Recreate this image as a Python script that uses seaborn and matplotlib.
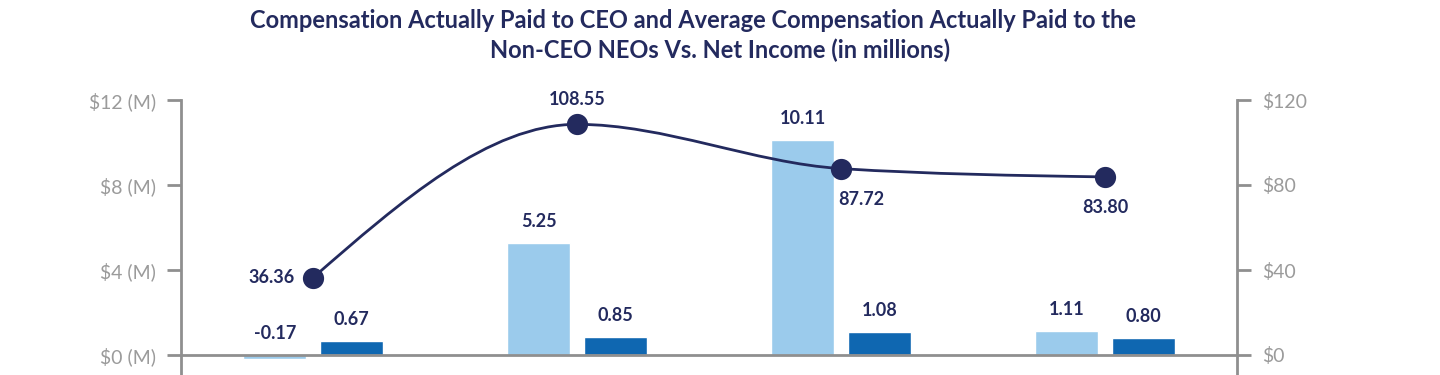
import numpy as np
import pandas as pd
import seaborn as sns
import matplotlib.pyplot as plt
from matplotlib.path import Path
from matplotlib.patches import PathPatch

# data
years = ["2020", "2021", "2022", "2023"]
ceo_cap = [-0.17, 5.25, 10.11, 1.11]
neo_cap = [0.67, 0.85, 1.08, 0.80]
net_income = [36.36, 108.55, 87.72, 83.80]
left_ticks = [0, 4, 8, 12]
left_labels = ["$0 (M)", "$4 (M)", "$8 (M)", "$12 (M)"]
right_ticks = [0, 40, 80, 120]
right_labels = ["$0", "$40", "$80", "$120"]
title_1 = "Compensation Actually Paid to CEO and Average Compensation Actually Paid to the"
title_2 = "Non-CEO NEOs Vs. Net Income (in millions)"

c_light = "#9bcbec"
c_dark = "#0f67b1"
c_navy = "#232a5e"
c_axis = "#8f8f8f"
c_tick = "#9b9b9b"

df = pd.DataFrame({
    "year": years * 2,
    "value": ceo_cap + neo_cap,
    "series": ["CEO"] * 4 + ["NEO"] * 4,
})

sns.set_style("white")
plt.rcParams["font.family"] = ["Lato", "DejaVu Sans"]

fig = plt.figure(figsize=(14.4, 3.75), dpi=100)
ax = fig.add_axes([181 / 1440, 0, (1237 - 181) / 1440, 1 - 100 / 375])

sns.barplot(data=df, x="year", y="value", hue="series", order=years,
            palette={"CEO": c_light, "NEO": c_dark}, width=0.58, gap=0.17,
            saturation=1, ax=ax, legend=False)
ax.set_xlim(-0.5, 3.5)
ax.set_ylim(-20 / 21.25, 12)
ax.set_xticks([])
ax.set_xlabel(None)
ax.set_ylabel(None)
ax.set_yticks(left_ticks)
ax.set_yticklabels(left_labels)
ax.tick_params(axis="y", colors=c_axis, labelcolor=c_tick, labelsize=14,
               length=10, width=2, direction="out", pad=8)
for s in ["top", "bottom", "right"]:
    ax.spines[s].set_visible(False)
ax.spines["left"].set_color(c_axis)
ax.spines["left"].set_linewidth(2)
ax.axhline(0, color=c_axis, lw=2, zorder=3)

# bar labels
dx = 0.145
for i, (a, b) in enumerate(zip(ceo_cap, neo_cap)):
    for off, v in [(-dx, a), (dx, b)]:
        ax.annotate(f"{v:.2f}", (i + off, max(v, 0)), xytext=(0, 13),
                    textcoords="offset pixels", ha="center", va="bottom",
                    fontsize=13, fontweight="bold", color=c_navy)

# net income on the right axis
ax2 = ax.twinx()
ax2.set_ylim(-200 / 21.25, 120)
ax2.set_yticks(right_ticks)
ax2.set_yticklabels(right_labels)
ax2.tick_params(axis="y", colors=c_axis, labelcolor=c_tick, labelsize=14,
                length=10, width=2, direction="out", pad=8)
for s in ["top", "bottom", "left"]:
    ax2.spines[s].set_visible(False)
ax2.spines["right"].set_color(c_axis)
ax2.spines["right"].set_linewidth(2)

# monotone smoothed line drawn as cubic bezier segments
xs = np.arange(len(net_income), dtype=float)
ys = np.array(net_income, dtype=float)
sl = np.diff(ys) / np.diff(xs)
t = np.zeros(len(ys))
for i in range(1, len(ys) - 1):
    s0, s1 = sl[i - 1], sl[i]
    p = (s0 + s1) / 2
    t[i] = (np.sign(s0) + np.sign(s1)) * min(abs(s0), abs(s1), 0.5 * abs(p))
t[0] = (3 * sl[0] - t[1]) / 2
t[-1] = (3 * sl[-1] - t[-2]) / 2
verts = [(xs[0], ys[0])]
codes = [Path.MOVETO]
for i in range(len(ys) - 1):
    h = xs[i + 1] - xs[i]
    verts += [(xs[i] + h / 3, ys[i] + h * t[i] / 3),
              (xs[i + 1] - h / 3, ys[i + 1] - h * t[i + 1] / 3),
              (xs[i + 1], ys[i + 1])]
    codes += [Path.CURVE4] * 3
ax2.add_patch(PathPatch(Path(verts, codes), fill=False, edgecolor=c_navy, lw=2, zorder=4))
sns.scatterplot(x=xs, y=ys, ax=ax2, s=200, color=c_navy, edgecolor=c_navy,
                zorder=5, legend=False)

offsets = [(-18, 0, "right", "center"), (0, 16, "center", "bottom"),
           (20, -22, "center", "top"), (0, -22, "center", "top")]
for i, v in enumerate(net_income):
    ox, oy, ha, va = offsets[i]
    ax2.annotate(f"{v:.2f}", (i, v), xytext=(ox, oy), textcoords="offset pixels",
                 ha=ha, va=va, fontsize=13, fontweight="bold", color=c_navy)

fig.text(693 / 1440, 1 - 21 / 375, title_1, ha="center", va="center",
         fontsize=17, fontweight="bold", color=c_navy)
fig.text(720 / 1440, 1 - 50 / 375, title_2, ha="center", va="center",
         fontsize=17, fontweight="bold", color=c_navy)

fig.savefig("out.png", dpi=100)
